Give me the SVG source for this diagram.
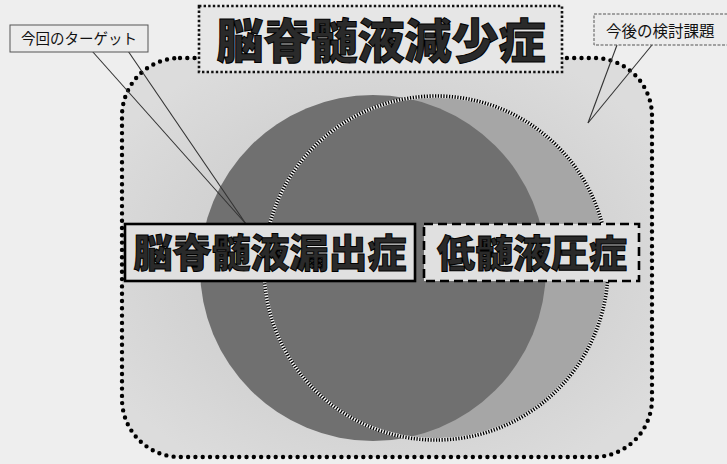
<svg xmlns="http://www.w3.org/2000/svg" width="727" height="464" viewBox="0 0 727 464">
  <defs>
    <radialGradient id="halo" cx="0.5" cy="0.52" r="0.6">
      <stop offset="0" stop-color="#c4c4c4"/>
      <stop offset="0.7" stop-color="#d4d4d4"/>
      <stop offset="1" stop-color="#dcdcdc"/>
    </radialGradient>
    <style>
      .jp { font-family: "Noto Sans CJK JP", "Noto Sans CJK SC", sans-serif; }
      .big { font-weight: 900; fill: #2a2a2a; stroke: #000; stroke-width: 1; text-anchor: middle; }
      .small { font-weight: 400; fill: #111; }
      .callout { fill: #ececec; stroke: #555; stroke-width: 1; }
      .tail { fill: none; stroke: #333; stroke-width: 1.1; }
    </style>
  </defs>
  <rect x="0" y="0" width="727" height="464" fill="#eeeeee"/>

  <g id="outer-frame">
    <rect x="122" y="58" width="530" height="399" rx="58" fill="url(#halo)" stroke="#000" stroke-width="4.4" stroke-dasharray="0 7.3" stroke-linecap="round"/>
  </g>

  <g id="circles">
    <circle id="right-circle" cx="436" cy="268" r="172" fill="#a6a6a6"/>
    <circle id="left-circle" cx="373" cy="268" r="173" fill="#707070"/>
    <circle cx="436" cy="268" r="172" fill="none" stroke="#f0f0f0" stroke-width="3.4"/>
    <circle cx="436" cy="268" r="172" fill="none" stroke="#000" stroke-width="3.6" stroke-dasharray="1.3 1.5"/>
  </g>

  <g id="title">
    <rect x="199" y="6" width="363" height="66" fill="#e6e6e6" stroke="#111" stroke-width="2.6" stroke-dasharray="2.4 2.2"/>
    <text class="jp big" x="381" y="58" font-size="47">脳脊髄液減少症</text>
  </g>

  <g id="connectors">
    <line class="tail" x1="92" y1="51" x2="246" y2="224"/>
    <line class="tail" x1="128" y1="51" x2="246" y2="224"/>
    <line class="tail" x1="617" y1="45" x2="588" y2="123"/>
    <line class="tail" x1="652" y1="45" x2="588" y2="123"/>
  </g>

  <g id="callout-target">
    <rect class="callout" x="10" y="25" width="138" height="27"/>
    <text class="jp small" x="79" y="44" font-size="14.5" text-anchor="middle">今回のターゲット</text>
  </g>

  <g id="callout-future">
    <rect class="callout" x="594" y="14" width="140" height="31" stroke-dasharray="3 1.5"/>
    <text class="jp small" x="606" y="37" font-size="15.5">今後の検討課題</text>
  </g>

  <g id="label-leak">
    <rect x="125" y="224" width="290" height="57" fill="#e0e0e0" stroke="#000" stroke-width="2.6"/>
    <text class="jp big" x="270" y="267" font-size="39">脳脊髄液漏出症</text>
  </g>

  <g id="label-low-pressure">
    <rect x="424" y="224" width="215" height="57" fill="#e0e0e0" stroke="#000" stroke-width="2.6" stroke-dasharray="9 5"/>
    <text class="jp big" x="532" y="267" font-size="38">低髄液圧症</text>
  </g>
</svg>
